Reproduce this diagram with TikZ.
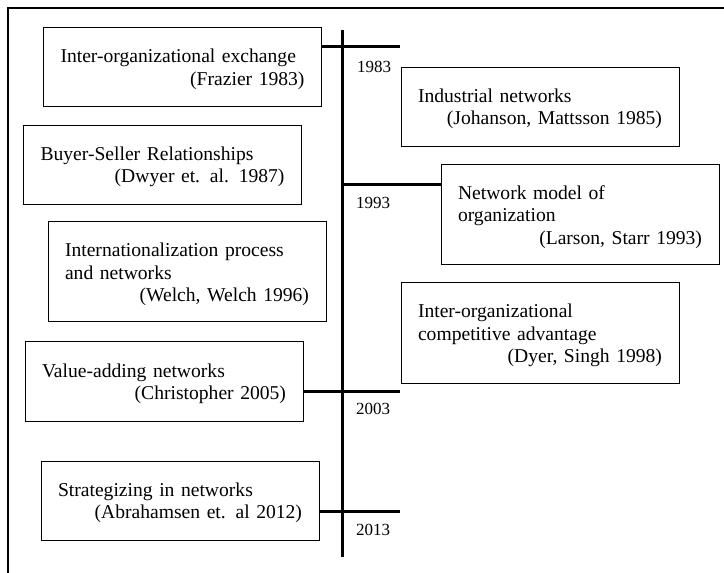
\documentclass[tikz,border=0pt]{standalone}
\usepackage{fontspec}
\setmainfont{Liberation Serif}

\begin{document}
\begin{tikzpicture}[
		x=0.75pt, y=-0.75pt,
		event/.style={draw, line width=0.75pt, text width=183pt, inner xsep=12.75pt, inner ysep=0pt, text height=26.25pt, align=left, font=\fontsize{14.7}{16.8}\selectfont},
		short/.style={event, text depth=33pt},
		tall/.style={event, text depth=48.75pt},
		axis/.style={line width=2.25pt},
		tick/.style={line width=2.25pt},
		year/.style={inner sep=0pt, font=\fontsize{12.75}{15}\selectfont},
		frame/.style={line width=1.1pt},
	]
	\useasboundingbox (0,0) rectangle (724,573);
	\draw[frame] (8,573) -- (8,8) -- (724,8);
	\coordinate (top) at (342,30);
	\coordinate (bottom) at (342,557);
	\draw[axis] (top) -- (bottom);
	\node[short] (frazier) at (182.5,67.5) {Inter-organizational exchange\\\hspace*{\fill}(Frazier 1983)};
	\node[short] (dwyer) at (162.5,165) {Buyer-Seller Relationships\\\hspace*{\fill}(Dwyer et. al. 1987)};
	\node[tall] (welch) at (187,272) {Internationalization process\\and networks\\\hspace*{\fill}(Welch, Welch 1996)};
	\node[short] (christopher) at (164,381.5) {Value-adding networks\\\hspace*{\fill}(Christopher 2005)};
	\node[short] (abrahamsen) at (180,501) {Strategizing in networks\\\hspace*{\fill}(Abrahamsen et. al 2012)};
	\node[short] (johanson) at (540,107) {Industrial networks\\\hspace*{\fill}(Johanson, Mattsson 1985)};
	\node[tall] (larson) at (580,214.5) {Network model of\\organization\\\hspace*{\fill}(Larson, Starr 1993)};
	\node[tall] (dyer) at (540,333) {Inter-organizational\\competitive advantage\\\hspace*{\fill}(Dyer, Singh 1998)};
	\coordinate (t1983) at (400,47);
	\coordinate (a1993) at (342,185);
	\coordinate (t2003) at (400,391);
	\coordinate (t2013) at (400,511);
	\draw[tick] (frazier.east |- t1983) -- (t1983);
	\draw[tick] (a1993) -- (a1993 -| larson.west);
	\draw[tick] (christopher.east |- t2003) -- (t2003);
	\draw[tick] (abrahamsen.east |- t2013) -- (t2013);
	\node[year] (y1983) at (374,67) {1983};
	\node[year] (y1993) at (373,203) {1993};
	\node[year] (y2003) at (373,409) {2003};
	\node[year] (y2013) at (373,530) {2013};
\end{tikzpicture}
\end{document}
